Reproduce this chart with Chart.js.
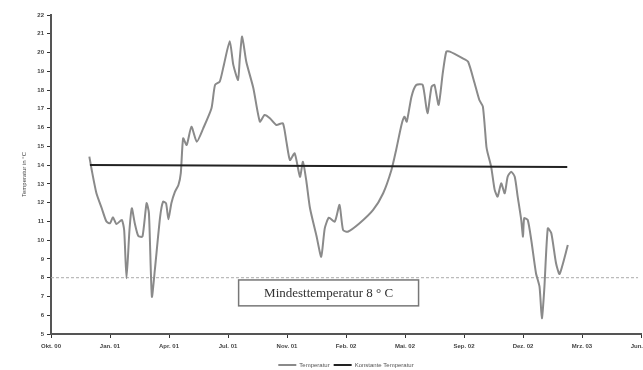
<!DOCTYPE html>
<html>
<head>
<meta charset="utf-8">
<script src="https://cdn.jsdelivr.net/npm/chart.js@4/dist/chart.umd.min.js"></script>
<style>
  html, body { margin:0; padding:0; background:#fff; }
  #wrap { width:643px; height:370px; }
</style>
</head>
<body>
<div id="wrap"><canvas id="chart" width="643" height="370"></canvas></div>
<script>
// days since 1 Oct 2000 (x axis is linear, 100 days per tick)
const tickLabels = ['Okt. 00','Jan. 01','Apr. 01','Jul. 01','Nov. 01','Feb. 02','Mai. 02','Sep. 02','Dez. 02','Mrz. 03','Jun. 03'];
const yTicks = [5,22];

const tempDays = [65,69,77,86,94,100,105,111,120,124,128,133,137,142,148,155,162,166,171,176,185,190,195,199,204,210,216,220,224,230,238,247,258,272,278,286,293,303,309,317,320,324,331,343,354,362,371,382,393,399,405,413,422,427,433,439,450,458,464,471,481,489,495,503,523,546,563,577,585,594,599,603,611,619,630,638,645,650,657,664,670,676,698,707,718,726,732,738,740,746,752,757,763,769,774,780,786,791,797,800,802,808,814,822,828,832,836,842,848,856,862,876];
const tempValues = [14.45,13.74,12.5,11.7,10.99,10.9,11.22,10.86,11.08,10.54,7.97,10.54,11.7,10.9,10.22,10.19,11.97,11.43,6.99,8.41,11.25,12.05,11.97,11.11,11.97,12.58,12.94,13.57,15.43,15.07,16.05,15.25,15.96,17.03,18.27,18.45,19.34,20.6,19.34,18.54,19.69,20.85,19.51,18.1,16.32,16.67,16.5,16.14,16.23,15.25,14.27,14.63,13.38,14.18,13.1,11.7,10.22,9.12,10.63,11.2,10.99,11.88,10.54,10.45,10.9,11.61,12.5,13.74,14.81,16.14,16.58,16.32,17.65,18.27,18.27,16.76,18.18,18.27,17.21,18.9,20.05,20.05,19.69,19.51,18.36,17.47,17.12,14.98,14.66,13.92,12.68,12.32,13.03,12.5,13.38,13.65,13.38,12.32,11.08,10.19,11.17,11.08,10.01,8.24,7.52,5.84,7.35,10.63,10.37,8.77,8.2,9.74];

const constDays = [66,875];
const constValues = [14.0,13.9];

const minDays = [0,995];
const minValues = [8,8];

const boxDays = [318,623];
const boxValues = [7.88,6.5];
const boxText = 'Mindesttemperatur 8 ° C';

function pts(xs, ys){ return xs.map((x,i)=>({x:x, y:ys[i]})); }

const noteBox = {
  id:'noteBox',
  afterDatasetsDraw(chart){
    const {ctx, scales:{x, y}} = chart;
    const l = x.getPixelForValue(boxDays[0]), r = x.getPixelForValue(boxDays[1]);
    const t = y.getPixelForValue(boxValues[0]), b = y.getPixelForValue(boxValues[1]);
    ctx.save();
    ctx.fillStyle = '#fff';
    ctx.fillRect(l, t, r-l, b-t);
    ctx.strokeStyle = '#777';
    ctx.lineWidth = 1.5;
    ctx.strokeRect(l, t, r-l, b-t);
    ctx.fillStyle = '#333';
    ctx.font = '13px "Liberation Serif", serif';
    ctx.textAlign = 'center';
    ctx.textBaseline = 'middle';
    ctx.fillText(boxText, (l+r)/2, (t+b)/2 + 1);
    ctx.restore();
  }
};

new Chart(document.getElementById('chart'), {
  type:'scatter',
  data:{
    datasets:[{
      label:'Temperatur',
      data:pts(tempDays, tempValues),
      showLine:true, borderColor:'#8a8a8a', borderWidth:2,
      pointRadius:0, tension:0.2, order:2
    },{
      label:'Konstante Temperatur',
      data:pts(constDays, constValues),
      showLine:true, borderColor:'#222', borderWidth:2,
      pointRadius:0, order:1
    },{
      label:'min',
      data:pts(minDays, minValues),
      showLine:true, borderColor:'#aaa', borderWidth:1,
      borderDash:[3,2], pointRadius:0, order:3
    }]
  },
  options:{
    responsive:false, animation:false,
    layout:{ padding:{ top:15, right:2, left:0, bottom:-8 } },
    plugins:{
      tooltip:{ enabled:false },
      legend:{
        position:'bottom', fullSize:false,
        labels:{
          filter:item => item.text !== 'min',
          sort:(a,b) => a.datasetIndex - b.datasetIndex,
          usePointStyle:true, pointStyle:'line', pointStyleWidth:18, boxHeight:2,
          padding:4, font:{ size:6, family:'"Liberation Sans", Arial' }, color:'#555'
        }
      }
    },
    scales:{
      x:{
        type:'linear', min:0, max:1000,
        afterFit:s => { s.height = 24; s.paddingLeft = 0; s.paddingRight = 0; },
        border:{ color:'#555', width:2 },
        grid:{ drawOnChartArea:false, tickLength:4, color:'#333' },
        ticks:{ stepSize:100, autoSkip:false, maxRotation:0, padding:5,
          font:{ size:6, family:'"Liberation Sans", Arial', weight:'bold' }, color:'#444',
          callback:(v) => tickLabels[Math.round(v/100)] }
      },
      y:{
        min:yTicks[0], max:yTicks[1],
        afterFit:s => { s.width = 51; },
        border:{ color:'#555', width:2 },
        grid:{ drawOnChartArea:false, tickLength:4, color:'#333' },
        title:{ display:true, text:'Temperatur in °C', font:{ size:6, family:'"Liberation Sans", Arial' }, color:'#444', padding:{ top:21, bottom:2 } },
        ticks:{ stepSize:1, autoSkip:false, padding:3,
          font:{ size:6, family:'"Liberation Sans", Arial', weight:'bold' }, color:'#444' }
      }
    }
  },
  plugins:[noteBox]
});
</script>
</body>
</html>
